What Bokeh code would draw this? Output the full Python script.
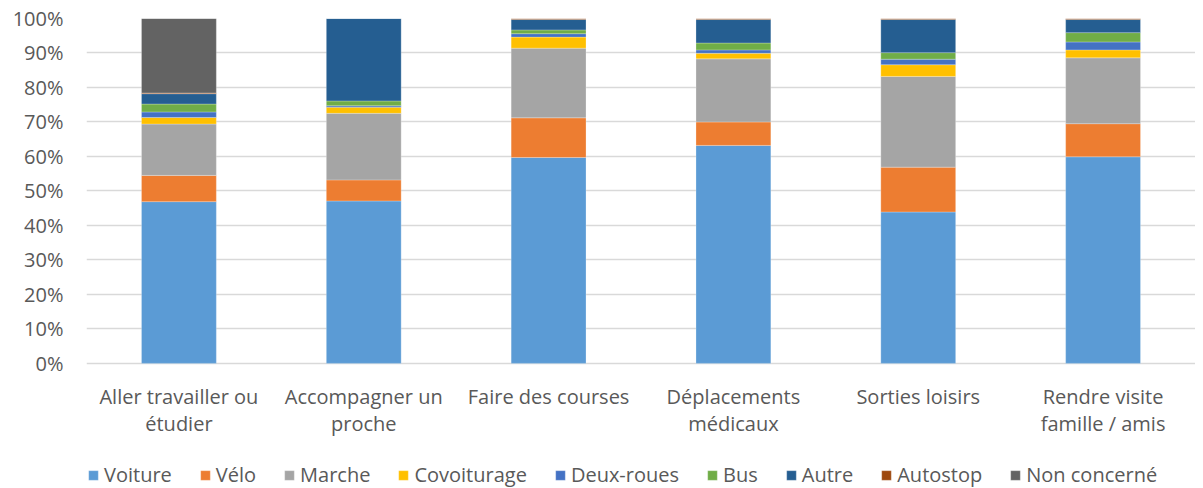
from bokeh.plotting import figure
from bokeh.models import FactorRange, NumeralTickFormatter, Legend, LegendItem, FixedTicker, Range1d, ColumnDataSource
from bokeh.core.properties import value
from bokeh.embed import file_html
from bokeh.resources import INLINE

categories = ["Aller travailler ou\nétudier", "Accompagner un\nproche", "Faire des courses",
              "Déplacements\nmédicaux", "Sorties loisirs", "Rendre visite\nfamille / amis"]
series = ["Voiture", "Vélo", "Marche", "Covoiturage", "Deux-roues", "Bus", "Autre", "Autostop", "Non concerné"]

voiture      = [46.9, 47.1, 59.7, 63.2, 43.9, 59.9]
velo         = [7.6, 6.1, 11.5, 6.8, 13.0, 9.6]
marche       = [14.9, 19.3, 20.2, 18.3, 26.3, 19.1]
covoiturage  = [1.9, 1.8, 3.2, 1.6, 3.4, 2.3]
deux_roues   = [1.6, 0.4, 1.0, 1.0, 1.6, 2.3]
bus          = [2.3, 1.4, 1.1, 2.0, 1.9, 2.7]
autre        = [3.0, 23.9, 3.0, 6.8, 9.6, 3.8]
autostop     = [0.2, 0.0, 0.3, 0.3, 0.3, 0.3]
non_concerne = [21.6, 0.0, 0.0, 0.0, 0.0, 0.0]

colors = ["#5B9BD5", "#ED7D31", "#A5A5A5", "#FFC000", "#4472C4", "#70AD47", "#255E91", "#9E480E", "#636363"]

values = [voiture, velo, marche, covoiturage, deux_roues, bus, autre, autostop, non_concerne]
data = {"cat": categories}
for name, vals in zip(series, values):
    data[name] = [v / 100.0 for v in vals]

FONT = "Open Sans"
TXT = "#595959"
FS = "20px"

p = figure(x_range=FactorRange(*categories, range_padding=0), y_range=Range1d(-0.3628, 1.0),
           width=1195, height=488, output_backend="svg", toolbar_location=None,
           min_border_left=86, min_border_right=0, min_border_top=18, min_border_bottom=0)
p.outline_line_color = None

renderers = p.vbar_stack(series, x="cat", width=0.405, source=data, color=colors,
                         line_color="white", line_width=0.5, line_alpha=0.5)

# category labels (two lines) below the bars
line1 = [c.split("\n")[0] for c in categories]
line2 = [c.split("\n")[1] if "\n" in c else "" for c in categories]
lab = ColumnDataSource(dict(cat=categories, l1=line1, l2=line2,
                            y1=[-0.096] * len(categories), y2=[-0.175] * len(categories)))
p.text(x="cat", y="y1", text="l1", source=lab, text_align="center", text_baseline="middle",
       text_font=value(FONT), text_font_size=value(FS), text_color=TXT)
p.text(x="cat", y="y2", text="l2", source=lab, text_align="center", text_baseline="middle",
       text_font=value(FONT), text_font_size=value(FS), text_color=TXT)

p.yaxis.ticker = FixedTicker(ticks=[i / 10 for i in range(11)])
p.yaxis.formatter = NumeralTickFormatter(format="0%")
p.yaxis.axis_line_color = None
p.yaxis.major_tick_line_color = None
p.yaxis.minor_tick_line_color = None
p.yaxis.major_label_standoff = 17
p.yaxis.major_label_text_font = FONT
p.yaxis.major_label_text_font_size = FS
p.yaxis.major_label_text_color = TXT
p.xaxis.visible = False

p.xgrid.grid_line_color = None
p.ygrid.grid_line_color = "#D9D9D9"
p.ygrid.grid_line_width = 1.5

legend = Legend(items=[LegendItem(label=s, renderers=[r]) for s, r in zip(series, renderers)],
                orientation="horizontal", location=(1, 0),
                label_text_font=FONT, label_text_font_size=FS, label_text_color=TXT,
                glyph_width=12, glyph_height=12, label_standoff=5, spacing=27,
                padding=0, margin=0, border_line_color=None, background_fill_alpha=0)
p.add_layout(legend)

open("out.html", "w").write(file_html(p, INLINE))
